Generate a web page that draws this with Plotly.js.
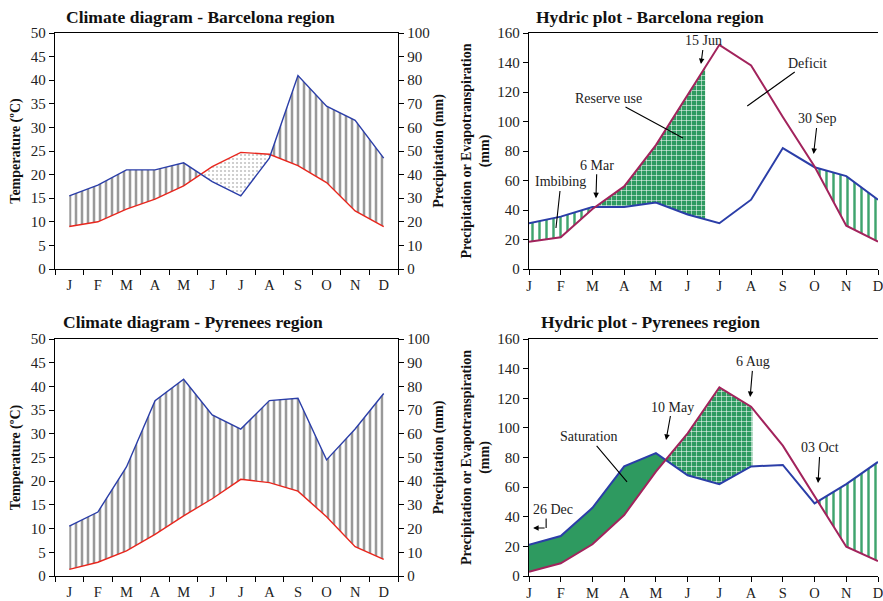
<!DOCTYPE html>
<html><head><meta charset="utf-8">
<script src="https://cdn.plot.ly/plotly-3.0.1.min.js"></script>
<style>html,body{margin:0;padding:0;background:#fff}</style>
</head><body><div id="chart" style="width:883px;height:601px"></div>
<script>
// ---------- data ----------
const months = ['J','F','M','A','M','J','J','A','S','O','N','D'];
// Barcelona region
const bcnTemp   = [9.0, 10.0, 12.7, 14.8, 17.6, 21.7, 24.7, 24.3, 21.9, 18.3, 12.3, 9.0];      // ºC
const bcnPrecip = [31, 35.5, 42, 42, 45, 37, 31, 47, 82, 69, 63, 47];                          // mm
const bcnET     = [18.5, 21.5, 40.7, 56, 84, 118, 152, 138, 103, 69.5, 29.4, 18.5];             // mm
// Pyrenees region
const pyrTemp   = [1.4, 2.9, 5.3, 8.8, 12.7, 16.3, 20.4, 19.7, 17.9, 12.5, 6.2, 3.5];
const pyrPrecip = [21, 27, 46, 74, 83, 68, 62, 74, 75, 49, 62, 77];
const pyrET     = [2.9, 8.6, 21.4, 41.2, 70.4, 96.3, 127.4, 114.3, 88.0, 53.6, 19.8, 10.1];
// end of reserve use (month index position)
const bcnReserveEnd = 5.55;   // 15 Jun
const pyrReserveEnd = 7.04;   // 6 Aug

// ---------- helpers ----------
const idx = months.map((_, i) => i);
const bounds = idx.map(i => i - 0.5).concat([idx.length - 0.5]);
const P_PER_DEG = 2; // Walter-Lieth: 1 ºC = 2 mm
const half = arr => arr.map(v => v / P_PER_DEG);

function crossings(a, b) {
  const c = [];
  for (let i = 0; i < a.length - 1; i++) {
    const d0 = a[i] - b[i], d1 = a[i + 1] - b[i + 1];
    if (d0 * d1 < 0) c.push(i + d0 / (d0 - d1));
  }
  return c;
}
function interp(arr, x) {
  const i = Math.min(Math.floor(x), arr.length - 2);
  const t = x - i;
  return arr[i] * (1 - t) + arr[i + 1] * t;
}
function band(a, b, x0, x1) {
  const xs = [x0];
  for (let i = Math.ceil(x0); i <= Math.floor(x1); i++) if (i > x0 && i < x1) xs.push(i);
  xs.push(x1);
  const top = xs.map(x => interp(a, x));
  const bot = xs.map(x => interp(b, x));
  return { x: xs.concat(xs.slice().reverse()), y: top.concat(bot.slice().reverse()) };
}
function fillTrace(a, b, x0, x1, xa, ya, pattern, color) {
  const p = band(a, b, x0, x1);
  const t = { type: 'scatter', mode: 'lines', x: p.x, y: p.y, xaxis: xa, yaxis: ya,
    line: { width: 0 }, fill: 'toself', hoverinfo: 'skip', showlegend: false };
  if (pattern) { t.fillpattern = pattern; t.fillcolor = pattern.bgcolor; }
  else t.fillcolor = color;
  return t;
}
function lineTrace(y, xa, ya, color, w) {
  return { type: 'scatter', mode: 'lines', x: idx, y: y, xaxis: xa, yaxis: ya,
    line: { color: color, width: w }, hoverinfo: 'skip', showlegend: false };
}

const BLUE = '#2b3ea8', RED = '#e8261d', PURPLE = '#a2235c', GREEN = '#2e9a60';
const grayStripes  = { shape: '|', fgcolor: '#999999', bgcolor: '#ffffff', size: 6, solidity: 0.42 };
const grayDots     = { shape: '.', fgcolor: '#c4c4c4', bgcolor: '#ffffff', size: 4, solidity: 0.22 };
const greenStripes = { shape: '|', fgcolor: '#3fa46e', bgcolor: '#ffffff', size: 7, solidity: 0.35 };
const greenCheck   = { shape: '+', fgcolor: '#ffffff', bgcolor: GREEN, size: 5, solidity: 0.2 };

const traces = [];
// --- Climate Barcelona (x, y temperature / y2 precipitation) ---
{
  const p = half(bcnPrecip);
  const c = crossings(p, bcnTemp);
  traces.push(fillTrace(p, bcnTemp, 0, c[0], 'x', 'y', grayStripes));
  traces.push(fillTrace(bcnTemp, p, c[0], c[1], 'x', 'y', grayDots));
  traces.push(fillTrace(p, bcnTemp, c[1], 11, 'x', 'y', grayStripes));
  traces.push(lineTrace(bcnTemp, 'x', 'y', RED, 1.4));
  traces.push(lineTrace(bcnPrecip, 'x', 'y2', BLUE, 1.4));
}
// --- Hydric Barcelona (x2, y3) ---
{
  const c = crossings(bcnPrecip, bcnET);
  traces.push(fillTrace(bcnPrecip, bcnET, 0, c[0], 'x2', 'y3', greenStripes));
  traces.push(fillTrace(bcnET, bcnPrecip, c[0], bcnReserveEnd, 'x2', 'y3', greenCheck));
  traces.push(fillTrace(bcnPrecip, bcnET, c[1], 11, 'x2', 'y3', greenStripes));
  traces.push(lineTrace(bcnPrecip, 'x2', 'y3', BLUE, 2));
  traces.push(lineTrace(bcnET, 'x2', 'y3', PURPLE, 2));
}
// --- Climate Pyrenees (x3, y4 / y5) ---
{
  const p = half(pyrPrecip);
  traces.push(fillTrace(p, pyrTemp, 0, 11, 'x3', 'y4', grayStripes));
  traces.push(lineTrace(pyrTemp, 'x3', 'y4', RED, 1.4));
  traces.push(lineTrace(pyrPrecip, 'x3', 'y5', BLUE, 1.4));
}
// --- Hydric Pyrenees (x4, y6) ---
{
  const c = crossings(pyrPrecip, pyrET);
  traces.push(fillTrace(pyrPrecip, pyrET, 0, c[0], 'x4', 'y6', null, GREEN));
  traces.push(fillTrace(pyrET, pyrPrecip, c[0], pyrReserveEnd, 'x4', 'y6', greenCheck));
  traces.push(fillTrace(pyrPrecip, pyrET, c[1], 11, 'x4', 'y6', greenStripes));
  traces.push(lineTrace(pyrPrecip, 'x4', 'y6', BLUE, 2));
  traces.push(lineTrace(pyrET, 'x4', 'y6', PURPLE, 2));
}

// ---------- layout ----------
const W = 883, H = 601;
const FONT = 'Liberation Serif, Times New Roman, serif';
const tickFont = { family: FONT, size: 15, color: '#222' };
const xTickFont = { family: FONT, size: 14.5, color: '#222' };
const titleFont = { family: FONT, size: 14, color: '#111' };
const px = v => v / W, py = v => 1 - v / H;

const baseAxis = { showline: true, linecolor: '#000', linewidth: 1.3, showgrid: false, zeroline: false,
  tickfont: tickFont, tickcolor: '#000', ticklen: 5, fixedrange: true, ticklabeloverflow: 'allow' };

function climX(anchor, dom) {
  return Object.assign({}, baseAxis, { domain: dom, anchor: anchor, range: [-0.5, 11.5], tickfont: xTickFont,
    tickmode: 'array', tickvals: idx, ticktext: months, ticks: '', mirror: true, ticklabelstandoff: 2,
    minor: { tickmode: 'array', tickvals: bounds, ticks: 'outside', ticklen: 5, tickcolor: '#000', tickwidth: 1 } });
}
function hydX(anchor, dom) {
  return Object.assign({}, baseAxis, { domain: dom, anchor: anchor, range: [0, 11], tickfont: xTickFont,
    tickmode: 'array', tickvals: idx, ticktext: months, ticks: 'outside', mirror: true, ticklabelstandoff: -2 });
}
const climLeftDom = [px(55), px(398)], hydDom = [px(529), px(878)];
const topDom = [py(269), py(33)], botDom = [py(576), py(339)];

const layout = {
  width: W, height: H, margin: { l: 0, r: 0, t: 0, b: 0 },
  paper_bgcolor: '#fff', plot_bgcolor: 'rgba(0,0,0,0)', showlegend: false,
  xaxis: climX('y', climLeftDom),
  yaxis: Object.assign({}, baseAxis, { domain: topDom, anchor: 'x', range: [0, 50], dtick: 5, ticks: 'outside',
    title: { text: '<b>Temperature (ºC)</b>', font: titleFont, standoff: 6 } }),
  yaxis2: Object.assign({}, baseAxis, { overlaying: 'y', side: 'right', anchor: 'x', range: [0, 100], dtick: 10, ticks: 'outside',
    title: { text: '<b>Precipitation (mm)</b>', font: titleFont, standoff: 4 } }),
  xaxis2: hydX('y3', hydDom),
  yaxis3: Object.assign({}, baseAxis, { domain: topDom, anchor: 'x2', range: [0, 160], dtick: 20, ticks: 'outside',
    title: { text: '<b>Precipitation or Evapotranspiration<br>(mm)</b>', font: titleFont, standoff: 4 } }),
  xaxis3: climX('y4', climLeftDom),
  yaxis4: Object.assign({}, baseAxis, { domain: botDom, anchor: 'x3', range: [0, 50], dtick: 5, ticks: 'outside',
    title: { text: '<b>Temperature (ºC)</b>', font: titleFont, standoff: 6 } }),
  yaxis5: Object.assign({}, baseAxis, { overlaying: 'y4', side: 'right', anchor: 'x3', range: [0, 100], dtick: 10, ticks: 'outside',
    title: { text: '<b>Precipitation (mm)</b>', font: titleFont, standoff: 4 } }),
  xaxis4: hydX('y6', hydDom),
  yaxis6: Object.assign({}, baseAxis, { domain: botDom, anchor: 'x4', range: [0, 160], dtick: 20, ticks: 'outside',
    title: { text: '<b>Precipitation or Evapotranspiration<br>(mm)</b>', font: titleFont, standoff: 4 } }),
};

const annFont = { family: FONT, size: 14, color: '#222' };
const headFont = { family: FONT, size: 17.5, color: '#111' };
function title(text, cx, cy) {
  return { text: '<b>' + text + '</b>', xref: 'paper', yref: 'paper', x: px(cx), y: py(cy),
    xanchor: 'center', yanchor: 'middle', showarrow: false, font: headFont };
}
function note(text, xa, ya, x, y, ax, ay, head) {
  return { text: text, xref: xa, yref: ya, x: x, y: y, ax: ax, ay: ay, showarrow: true,
    arrowhead: head, arrowsize: 1, arrowwidth: 1.1, arrowcolor: '#000', font: annFont, standoff: 0 };
}
layout.annotations = [
  title('Climate diagram - Barcelona region', 200, 17),
  title('Hydric plot - Barcelona region', 650, 17),
  title('Climate diagram - Pyrenees region', 193, 322),
  title('Hydric plot - Pyrenees region', 650, 322),
  // Barcelona hydric
  note('15 Jun', 'x2', 'y3', 5.42, 139, 3, -23, 2),
  note('6 Mar', 'x2', 'y3', 2.11, 48, 1, -33, 2),
  note('30 Sep', 'x2', 'y3', 8.97, 78, 4, -35, 2),
  note('Reserve use', 'x2', 'y3', 4.85, 88.8, -74, -40, 0),
  note('Deficit', 'x2', 'y3', 6.88, 110.5, 60, -43, 0),
  note('Imbibing', 'x2', 'y3', 0.85, 27.8, 5, -46, 0),
  // Pyrenees hydric
  note('6 Aug', 'x4', 'y6', 6.97, 120.9, 3, -35, 2),
  note('10 May', 'x4', 'y6', 4.32, 91.8, 6, -33, 2),
  note('Saturation', 'x4', 'y6', 3.09, 63.5, -38, -45, 0),
  note('03 Oct', 'x4', 'y6', 9.11, 62.8, 2, -35, 2),
  { text: '26 Dec', xref: 'x4', yref: 'y6', x: 0.76, y: 44.6, showarrow: false, font: annFont },
  note('', 'x4', 'y6', 0.13, 32.4, 13, 0, 2),
  note('', 'x4', 'y6', 0.54, 32.4, 0, -11, 0),
];

Plotly.newPlot('chart', traces, layout, { displayModeBar: false, staticPlot: true });
</script></body></html>
